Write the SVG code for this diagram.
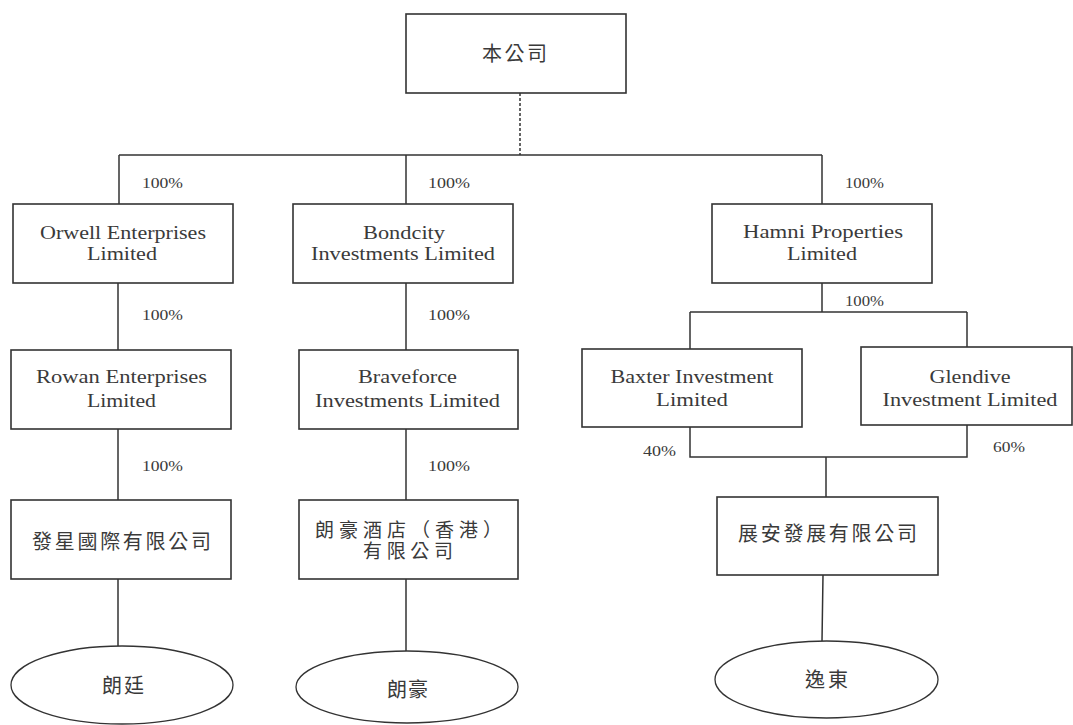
<svg xmlns="http://www.w3.org/2000/svg" width="1073" height="725" viewBox="0 0 1073 725">
<style>
.box{fill:#fff;stroke:#333;stroke-width:1.6}
.ell{fill:#fff;stroke:#333;stroke-width:1.3}
.ln{fill:none;stroke:#333;stroke-width:1.5}
.dash{fill:none;stroke:#333;stroke-width:1.5;stroke-dasharray:3 2}
.en{font-family:"Liberation Serif","Times New Roman",serif;font-size:18px;fill:#3a3a3a;text-anchor:middle}
.pct{font-family:"Liberation Serif","Times New Roman",serif;font-size:14px;fill:#3a3a3a}
.zh{font-family:"Noto Sans CJK TC","Noto Sans CJK SC",sans-serif;font-size:20px;fill:#3a3a3a;text-anchor:middle}
.zh2{font-size:19px}
</style>
<rect width="1073" height="725" fill="#fff"/>
<g id="connectors">
<path class="dash" d="M520 93V155"/>
<path class="ln" d="M119 155H822M119 155V204M406 155V204M822 155V204"/>
<path class="ln" d="M118 283V350M406 283V350M118 429V500M406 429V500M118 579V646M406 579V651"/>
<path class="ln" d="M822 283V312M690 312H967M690 312V349M967 312V347"/>
<path class="ln" d="M690 427V457H967V425M826 457V497M823 575L822 641"/>
</g>
<g id="percentages">
<text class="pct" x="142" y="188" textLength="41" lengthAdjust="spacingAndGlyphs">100%</text>
<text class="pct" x="428" y="188" textLength="42" lengthAdjust="spacingAndGlyphs">100%</text>
<text class="pct" x="845" y="188" textLength="39" lengthAdjust="spacingAndGlyphs">100%</text>
<text class="pct" x="142" y="320" textLength="41" lengthAdjust="spacingAndGlyphs">100%</text>
<text class="pct" x="428" y="320" textLength="42" lengthAdjust="spacingAndGlyphs">100%</text>
<text class="pct" x="142" y="471" textLength="41" lengthAdjust="spacingAndGlyphs">100%</text>
<text class="pct" x="428" y="471" textLength="42" lengthAdjust="spacingAndGlyphs">100%</text>
<text class="pct" x="845" y="306" textLength="39" lengthAdjust="spacingAndGlyphs">100%</text>
<text class="pct" x="643" y="456" textLength="33" lengthAdjust="spacingAndGlyphs">40%</text>
<text class="pct" x="993" y="452" textLength="32" lengthAdjust="spacingAndGlyphs">60%</text>
</g>
<g id="company">
<rect class="box" x="406" y="14" width="220" height="79"/>
<text class="zh" x="514.5" y="61" textLength="65" lengthAdjust="spacing">本公司</text>
</g>
<g id="orwell">
<rect class="box" x="13" y="204" width="220" height="79"/>
<text class="en" x="123" y="239" textLength="166" lengthAdjust="spacingAndGlyphs">Orwell Enterprises</text>
<text class="en" x="122" y="260" textLength="70" lengthAdjust="spacingAndGlyphs">Limited</text>
</g>
<g id="bondcity">
<rect class="box" x="293" y="204" width="220" height="79"/>
<text class="en" x="404" y="239" textLength="82" lengthAdjust="spacingAndGlyphs">Bondcity</text>
<text class="en" x="403" y="260" textLength="184" lengthAdjust="spacingAndGlyphs">Investments Limited</text>
</g>
<g id="hamni">
<rect class="box" x="712" y="204" width="220" height="79"/>
<text class="en" x="823" y="238" textLength="160" lengthAdjust="spacingAndGlyphs">Hamni Properties</text>
<text class="en" x="822" y="260" textLength="70" lengthAdjust="spacingAndGlyphs">Limited</text>
</g>
<g id="rowan">
<rect class="box" x="11" y="350" width="220" height="79"/>
<text class="en" x="121.5" y="383" textLength="171" lengthAdjust="spacingAndGlyphs">Rowan Enterprises</text>
<text class="en" x="121.5" y="407" textLength="69" lengthAdjust="spacingAndGlyphs">Limited</text>
</g>
<g id="braveforce">
<rect class="box" x="299" y="350" width="219" height="79"/>
<text class="en" x="407.5" y="383" textLength="99" lengthAdjust="spacingAndGlyphs">Braveforce</text>
<text class="en" x="407.5" y="407" textLength="185" lengthAdjust="spacingAndGlyphs">Investments Limited</text>
</g>
<g id="baxter">
<rect class="box" x="582" y="349" width="220" height="78"/>
<text class="en" x="692" y="383" textLength="163" lengthAdjust="spacingAndGlyphs">Baxter Investment</text>
<text class="en" x="692" y="406" textLength="72" lengthAdjust="spacingAndGlyphs">Limited</text>
</g>
<g id="glendive">
<rect class="box" x="861" y="347" width="211" height="78"/>
<text class="en" x="970" y="383" textLength="81" lengthAdjust="spacingAndGlyphs">Glendive</text>
<text class="en" x="970" y="406" textLength="175" lengthAdjust="spacingAndGlyphs">Investment Limited</text>
</g>
<g id="faxing">
<rect class="box" x="11" y="500" width="220" height="79"/>
<text class="zh" x="121.5" y="549" textLength="179" lengthAdjust="spacing">發星國際有限公司</text>
</g>
<g id="langhao-hotel">
<rect class="box" x="299" y="500" width="219" height="79"/>
<text class="zh zh2" x="408.5" y="537" textLength="187" lengthAdjust="spacing">朗豪酒店（香港）</text>
<text class="zh zh2" x="408" y="558" textLength="90" lengthAdjust="spacing">有限公司</text>
</g>
<g id="zhanan">
<rect class="box" x="717" y="497" width="221" height="78"/>
<text class="zh" x="827.5" y="541" textLength="179" lengthAdjust="spacing">展安發展有限公司</text>
</g>
<g id="langting">
<ellipse class="ell" cx="122" cy="685" rx="111" ry="39"/>
<text class="zh" x="123" y="693" textLength="42" lengthAdjust="spacing">朗廷</text>
</g>
<g id="langhao">
<ellipse class="ell" cx="407" cy="687" rx="111" ry="36"/>
<text class="zh" x="407.5" y="697" textLength="41" lengthAdjust="spacing">朗豪</text>
</g>
<g id="yidong">
<ellipse class="ell" cx="826.5" cy="679.5" rx="111.5" ry="38.5"/>
<text class="zh" x="826.5" y="687" textLength="43" lengthAdjust="spacing">逸東</text>
</g>
</svg>
